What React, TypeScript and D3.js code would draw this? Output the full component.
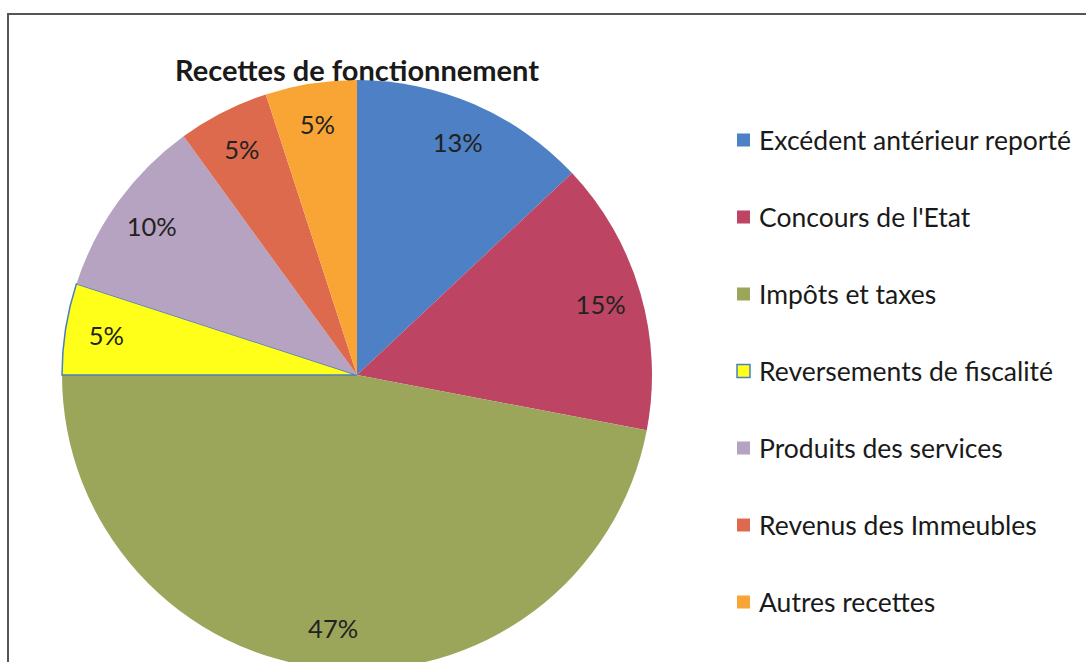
import React from "react";
import * as d3 from "d3";

const categories = [
  "Excédent antérieur reporté",
  "Concours de l'Etat",
  "Impôts et taxes",
  "Reversements de fiscalité",
  "Produits des services",
  "Revenus des Immeubles",
  "Autres recettes",
];
const values = [13, 15, 47, 5, 10, 5, 5];
const labels = ["13%", "15%", "47%", "5%", "10%", "5%", "5%"];
const colors = ["#4d80c4", "#bd4462", "#9ba65b", "#ffff1a", "#b5a3c1", "#dd6a4c", "#f9a535"];
const strokes = ["none", "none", "none", "#4a7fc0", "none", "none", "none"];
const title = "Recettes de fonctionnement";

export default function App() {
  const W = 1086, H = 662;
  const cx = 357, cy = 375, r = 295;
  const pie = d3.pie<number>().sort(null).value((d) => d);
  const arcs = pie(values);
  const arc = d3.arc<d3.PieArcDatum<number>>().innerRadius(0).outerRadius(r);
  const labelArc = d3.arc<d3.PieArcDatum<number>>().innerRadius(r * 0.86).outerRadius(r * 0.86);
  const legendY = d3.scalePoint<string>().domain(categories).range([140, 602]);
  const font = "Lato, 'Open Sans', sans-serif";
  return (
    <svg width={W} height={H} style={{ position: "absolute", left: 0, top: 0, background: "#fff" }}>
      <rect x={0} y={0} width={W} height={H} fill="#fff" />
      <rect x={8} y={14} width={W + 20} height={H + 20} fill="none" stroke="#555" strokeWidth={2} />
      <text x={357} y={81} textAnchor="middle" fontFamily={font} fontWeight="bold" fontSize={29} fill="#1a1a1a">
        {title}
      </text>
      <g transform={`translate(${cx},${cy})`}>
        {arcs.map((a, i) => (
          <path key={i} d={arc(a) || ""} fill={colors[i]} stroke={strokes[i]} strokeWidth={strokes[i] === "none" ? 0 : 1.5} />
        ))}
        {arcs.map((a, i) => {
          const [x, y] = labelArc.centroid(a);
          return (
            <text key={i} x={x} y={y} textAnchor="middle" dominantBaseline="central" fontFamily={font} fontSize={25.5} fill="#222">
              {labels[i]}
            </text>
          );
        })}
      </g>
      {categories.map((c, i) => {
        const y = legendY(c) as number;
        return (
          <g key={c}>
            <rect x={737} y={y - 6.5} width={13} height={13} fill={colors[i]} stroke={strokes[i] === "none" ? "none" : strokes[i]} strokeWidth={1.5} />
            <text x={759} y={y} dominantBaseline="central" fontFamily={font} fontSize={26.5} fill="#1a1a1a">
              {c}
            </text>
          </g>
        );
      })}
    </svg>
  );
}
